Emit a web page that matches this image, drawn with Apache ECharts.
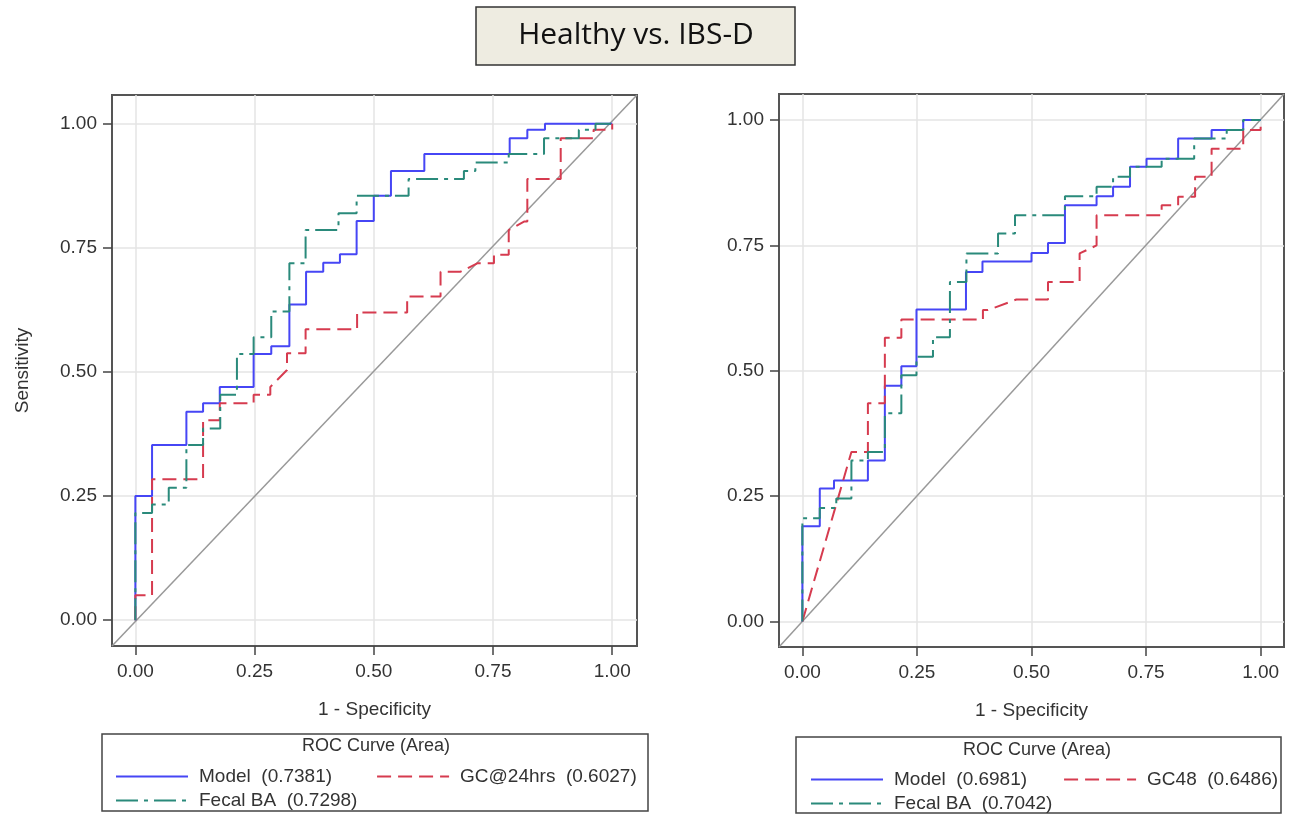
<!DOCTYPE html>
<html lang="en">
<head>
<meta charset="UTF-8">
<title>Healthy vs. IBS-D</title>
<script src="https://cdn.jsdelivr.net/npm/echarts@6/dist/echarts.min.js"></script>
<style>
    body { margin: 0; padding: 0; background: #fff; }
    #chart { width: 1297px; height: 815px; }
</style>
</head>
<body>
<div id="chart"></div>
<script>
    // tick positions shared by both plots
    const tickValues = [0, 0.25, 0.5, 0.75, 1];

    // legend labels (series names), left plot then right plot
    const leftNames = ['Model  (0.7381)', 'GC@24hrs  (0.6027)', 'Fecal BA  (0.7298)'];
    const rightNames = ['Model  (0.6981)', 'GC48  (0.6486)', 'Fecal BA  (0.7042)'];

    // ROC vertices [1 - specificity, sensitivity]
    const modelLeft = [[0,0],[0,0.25],[0.035,0.25],[0.035,0.353],[0.107,0.353],[0.107,0.42],[0.142,0.42],[0.142,0.437],
        [0.177,0.437],[0.177,0.47],[0.248,0.47],[0.248,0.536],[0.285,0.536],[0.285,0.552],[0.323,0.552],[0.323,0.636],
        [0.358,0.636],[0.358,0.702],[0.394,0.702],[0.394,0.72],[0.429,0.72],[0.429,0.737],[0.464,0.737],[0.464,0.804],
        [0.5,0.804],[0.5,0.855],[0.536,0.855],[0.536,0.905],[0.606,0.905],[0.606,0.939],[0.785,0.939],[0.785,0.971],
        [0.822,0.971],[0.822,0.988],[0.859,0.988],[0.859,1],[1,1]];
    const gcLeft = [[0,0],[0,0.05],[0.035,0.05],[0.035,0.284],[0.142,0.284],[0.142,0.403],[0.177,0.403],[0.177,0.437],
        [0.248,0.437],[0.248,0.454],[0.283,0.454],[0.283,0.47],[0.318,0.504],[0.318,0.538],[0.357,0.538],[0.357,0.586],
        [0.465,0.586],[0.465,0.62],[0.57,0.62],[0.57,0.652],[0.64,0.652],[0.64,0.702],[0.682,0.702],[0.717,0.719],
        [0.752,0.719],[0.752,0.736],[0.783,0.736],[0.783,0.786],[0.815,0.803],[0.822,0.803],[0.822,0.889],[0.892,0.889],
        [0.892,0.971],[0.961,0.971],[0.961,0.988],[1,0.988],[1,1]];
    const fecalLeft = [[0,0],[0,0.216],[0.035,0.216],[0.035,0.233],[0.07,0.233],[0.07,0.267],[0.107,0.267],[0.107,0.353],
        [0.142,0.353],[0.142,0.386],[0.178,0.386],[0.178,0.454],[0.213,0.454],[0.213,0.536],[0.248,0.536],[0.248,0.57],
        [0.285,0.57],[0.285,0.622],[0.323,0.622],[0.323,0.719],[0.357,0.719],[0.357,0.786],[0.426,0.786],[0.426,0.82],
        [0.464,0.82],[0.464,0.855],[0.573,0.855],[0.573,0.889],[0.689,0.889],[0.689,0.905],[0.713,0.905],[0.713,0.922],
        [0.783,0.922],[0.783,0.939],[0.857,0.939],[0.857,0.971],[0.93,0.971],[0.93,0.988],[0.965,0.988],[0.965,1],[1,1]];

    const modelRight = [[0,0],[0,0.19],[0.038,0.19],[0.038,0.265],[0.069,0.265],[0.069,0.281],[0.143,0.281],[0.143,0.321],
        [0.18,0.321],[0.18,0.47],[0.216,0.47],[0.216,0.509],[0.249,0.509],[0.249,0.622],[0.357,0.622],[0.357,0.697],
        [0.393,0.697],[0.393,0.718],[0.5,0.718],[0.5,0.735],[0.536,0.735],[0.536,0.755],[0.573,0.755],[0.573,0.83],
        [0.642,0.83],[0.642,0.848],[0.678,0.848],[0.678,0.867],[0.715,0.867],[0.715,0.907],[0.751,0.907],[0.751,0.923],
        [0.82,0.923],[0.82,0.963],[0.893,0.963],[0.893,0.98],[0.962,0.98],[0.962,1],[1,1]];
    const gcRight = [[0,0],[0.107,0.338],[0.143,0.338],[0.143,0.435],[0.18,0.435],[0.18,0.566],[0.216,0.566],[0.216,0.602],
        [0.394,0.602],[0.394,0.621],[0.405,0.621],[0.467,0.642],[0.536,0.642],[0.536,0.677],[0.605,0.677],[0.605,0.734],
        [0.642,0.75],[0.642,0.81],[0.784,0.81],[0.784,0.83],[0.82,0.83],[0.82,0.847],[0.857,0.847],[0.857,0.887],
        [0.893,0.887],[0.893,0.943],[0.962,0.943],[0.962,0.98],[1,0.98],[1,1]];
    const fecalRight = [[0,0],[0,0.206],[0.038,0.206],[0.038,0.226],[0.074,0.226],[0.074,0.245],[0.107,0.245],[0.107,0.321],
        [0.143,0.321],[0.143,0.338],[0.18,0.338],[0.18,0.415],[0.216,0.415],[0.216,0.491],[0.249,0.491],[0.249,0.528],
        [0.285,0.528],[0.285,0.567],[0.322,0.567],[0.322,0.677],[0.358,0.677],[0.358,0.734],[0.427,0.734],[0.427,0.774],
        [0.464,0.774],[0.464,0.81],[0.573,0.81],[0.573,0.848],[0.642,0.848],[0.642,0.867],[0.678,0.867],[0.678,0.887],
        [0.715,0.887],[0.715,0.907],[0.784,0.907],[0.784,0.923],[0.855,0.923],[0.855,0.963],[0.926,0.963],[0.926,0.98],
        [0.962,0.98],[0.962,1],[1,1]];

    const font = '"Liberation Sans", Arial, sans-serif';
    const textColor = '#333';
    const colors = { model: '#4646f5', gc: '#d63b4f', fecal: '#2a8a7b' };

    // plot frames: axis ranges include the small padding SAS puts round the data
    const plots = [
        { grid: { left: 112, top: 95, width: 525, height: 551 }, x: [-0.049, 1.052], y: [-0.052, 1.058], yName: 'Sensitivity' },
        { grid: { left: 779, top: 94, width: 505, height: 553 }, x: [-0.051, 1.051], y: [-0.051, 1.052], yName: '' }
    ];

    const tickLabel = { customValues: tickValues, formatter: v => v.toFixed(2), fontFamily: font, fontSize: 19, color: textColor };

    function xAxisFor(i) {
        return {
            type: 'value', gridIndex: i, min: plots[i].x[0], max: plots[i].x[1],
            name: '1 - Specificity', nameLocation: 'middle', nameGap: 54,
            nameTextStyle: { fontFamily: font, fontSize: 19, color: textColor },
            axisLine: { show: true, onZero: false, lineStyle: { color: '#555', width: 2 } },
            axisTick: { show: true, customValues: tickValues, length: 9, lineStyle: { color: '#444', width: 1.5 } },
            axisLabel: Object.assign({ margin: 16 }, tickLabel),
            splitLine: { show: true, lineStyle: { color: '#e4e4e4', width: 1.5 } }
        };
    }
    function yAxisFor(i) {
        return {
            type: 'value', gridIndex: i, min: plots[i].y[0], max: plots[i].y[1],
            name: plots[i].yName, nameLocation: 'middle', nameGap: 80,
            nameTextStyle: { fontFamily: font, fontSize: 19, color: textColor },
            axisLine: { show: true, onZero: false, lineStyle: { color: '#555', width: 2 } },
            axisTick: { show: true, customValues: tickValues, length: 9, lineStyle: { color: '#444', width: 1.5 } },
            axisLabel: Object.assign({ margin: 15 }, tickLabel),
            splitLine: { show: true, lineStyle: { color: '#e4e4e4', width: 1.5 } }
        };
    }

    function curve(name, i, data, color, dash) {
        return {
            name, type: 'line', xAxisIndex: i, yAxisIndex: i, data,
            symbol: 'none', silent: true, animation: false,
            itemStyle: { color },
            lineStyle: { color, width: 2, type: dash }
        };
    }
    function diagonal(i) {
        return {
            type: 'line', xAxisIndex: i, yAxisIndex: i, symbol: 'none', silent: true, animation: false,
            data: [[plots[i].x[0], plots[i].y[0]], [plots[i].x[1], plots[i].y[1]]],
            lineStyle: { color: '#999', width: 1.5 }, z: 1
        };
    }

    const series = [
        diagonal(0),
        curve(leftNames[0], 0, modelLeft, colors.model, 'solid'),
        curve(leftNames[1], 0, gcLeft, colors.gc, [14, 7]),
        curve(leftNames[2], 0, fecalLeft, colors.fecal, [22, 6, 4, 6]),
        diagonal(1),
        curve(rightNames[0], 1, modelRight, colors.model, 'solid'),
        curve(rightNames[1], 1, gcRight, colors.gc, [14, 7]),
        curve(rightNames[2], 1, fecalRight, colors.fecal, [22, 6, 4, 6])
    ];

    // one legend per row so the row spacing stays tight
    function legendRow(left, top, data, gap) {
        return {
            left, top, data, orient: 'horizontal', itemGap: gap, itemWidth: 72, itemHeight: 14,
            selectedMode: false,
            itemStyle: { opacity: 0 },
            textStyle: { fontFamily: font, fontSize: 19, color: textColor, padding: [0, 0, 0, 6] }
        };
    }

    const chart = echarts.init(document.getElementById('chart'));
    chart.setOption({
        backgroundColor: '#fff',
        animation: false,
        title: [
            { text: 'Healthy vs. IBS-D', left: 636, top: 20, textAlign: 'center', padding: 0, z: 10,
              textStyle: { fontFamily: '"Open Sans", sans-serif', fontSize: 30, fontWeight: 'normal', color: '#111' } },
            { text: 'ROC Curve (Area)', left: 376, top: 737, textAlign: 'center', padding: 0,
              textStyle: { fontFamily: font, fontSize: 18, fontWeight: 'normal', color: textColor } },
            { text: 'ROC Curve (Area)', left: 1037, top: 741, textAlign: 'center', padding: 0,
              textStyle: { fontFamily: font, fontSize: 18, fontWeight: 'normal', color: textColor } }
        ],
        graphic: [
            { type: 'rect', shape: { x: 476, y: 7, width: 319, height: 58 }, z: -1,
              style: { fill: '#eeece1', stroke: '#333', lineWidth: 1.5 } },
            { type: 'rect', shape: { x: 102, y: 734, width: 546, height: 77 },
              style: { fill: 'none', stroke: '#444', lineWidth: 1.5 } },
            { type: 'rect', shape: { x: 796, y: 737, width: 485, height: 76 },
              style: { fill: 'none', stroke: '#444', lineWidth: 1.5 } }
        ],
        legend: [
            legendRow(110, 762, [leftNames[0], leftNames[1]], 44),
            legendRow(110, 786, [leftNames[2]], 10),
            legendRow(805, 765, [rightNames[0], rightNames[1]], 36),
            legendRow(805, 789, [rightNames[2]], 10)
        ],
        grid: plots.map(p => Object.assign({ show: true, borderColor: '#555', borderWidth: 2, containLabel: false }, p.grid)),
        xAxis: [xAxisFor(0), xAxisFor(1)],
        yAxis: [yAxisFor(0), yAxisFor(1)],
        series
    });
</script>
</body>
</html>
